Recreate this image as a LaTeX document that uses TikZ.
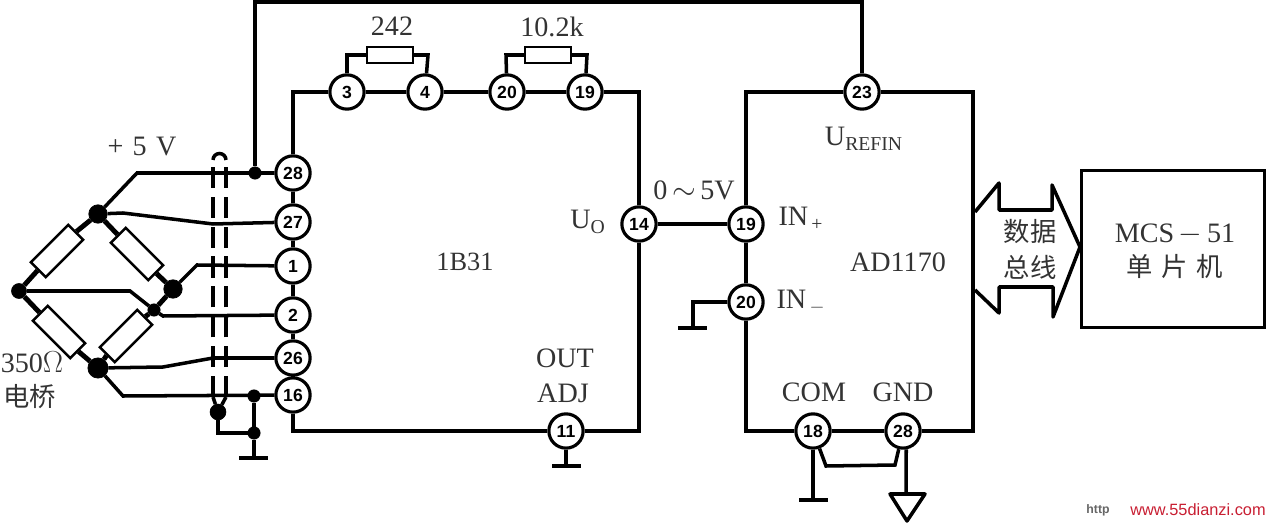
\documentclass[tikz,border=0pt]{standalone}
\usepackage{fontspec}
\setmainfont{Liberation Serif}
\newfontfamily\cjk{Noto Sans CJK SC}
\newfontfamily\pinfont{Liberation Sans}
\usepackage{tikz}
\usetikzlibrary{shapes,arrows}
\definecolor{markred}{RGB}{200,30,50}
\tikzstyle{pin} = [circle, draw, fill=white, line width=1.8pt, inner sep=0pt, minimum size=19.5pt, font=\pinfont\bfseries\fontsize{10}{10}\selectfont]
\tikzstyle{res} = [rectangle, draw, fill=white, line width=1.4pt, inner sep=0pt, minimum width=26pt, minimum height=9pt]
\tikzstyle{bridgeres} = [res, minimum width=30pt, minimum height=12pt]
\tikzstyle{dot} = [circle, draw, fill=black, inner sep=0pt, minimum size=7pt]
\tikzstyle{bigdot} = [dot, minimum size=10.5pt]
\tikzstyle{label} = [inner sep=0pt, font=\fontsize{16}{16}\selectfont, text=black!80]
\tikzstyle{cjklabel} = [inner sep=0pt, font=\cjk\fontsize{15}{15}\selectfont, text=black!80]
\tikzstyle{line} = [draw, line width=2pt]
\tikzstyle{bus} = [draw, line width=2.8pt]
\tikzstyle{shield} = [draw, line width=2pt, dash pattern=on 12pt off 5pt]
\tikzstyle{earth} = [draw, line width=1.8pt]
\begin{document}
\begin{tikzpicture}[x=0.02cm, y=-0.02cm]
    \useasboundingbox (0,0) rectangle (1267,523);
    % Place nodes
    \node [pin] (pin3) at (347,92) {3};
    \node [pin] (pin4) at (425,92) {4};
    \node [pin] (pin20) at (507,92) {20};
    \node [pin] (pin19) at (585,92) {19};
    \node [pin] (pin28) at (293,173) {28};
    \node [pin] (pin27) at (293,222) {27};
    \node [pin] (pin1) at (293,266) {1};
    \node [pin] (pin2) at (293,315) {2};
    \node [pin] (pin26) at (293,358) {26};
    \node [pin] (pin16) at (293,395) {16};
    \node [pin] (pin14) at (639,224) {14};
    \node [pin] (pin11) at (566,431) {11};
    \node [pin] (adc23) at (862,92) {23};
    \node [pin] (adc19) at (746,224) {19};
    \node [pin] (adc20) at (746,302) {20};
    \node [pin] (adc18) at (813,431) {18};
    \node [pin] (adc28) at (903,431) {28};
    \node [res] (gain) at (390,55) {};
    \node [res] (offset) at (548,55) {};
    \node [bridgeres, rotate=45] (armA) at (57,251) {};
    \node [bridgeres, rotate=-45] (armB) at (137,254) {};
    \node [bridgeres, rotate=-45] (armC) at (59,332) {};
    \node [bridgeres, rotate=45] (armD) at (126,336) {};
    \node [bigdot] (top) at (98,214) {};
    \node [bigdot, minimum size=8.5pt] (left) at (19,291) {};
    \node [bigdot] (right) at (173,289) {};
    \node [dot] (sense) at (154,310) {};
    \node [bigdot, minimum size=11.5pt] (bottom) at (98,368) {};
    \node [dot] (supply) at (255,173) {};
    \node [dot] (return) at (254,396) {};
    \node [dot] (common) at (254,433) {};
    \node [dot, minimum size=9pt] (drain) at (218,412) {};
    \node [rectangle, draw, line width=2pt, inner sep=0pt, minimum width=3.66cm, minimum height=3.14cm] (mcu) at (1173,249) {};
    \coordinate (earthA) at (254,458);
    \coordinate (earthB) at (566,466);
    \coordinate (earthC) at (693,328);
    \coordinate (earthD) at (813,500);
    \coordinate (digital) at (906,494);
    % Draw edges
    \path [bus] (pin3) -| (pin28);
    \path [bus] (pin28) -- (pin27);
    \path [bus] (pin27) -- (pin1);
    \path [bus] (pin1) -- (pin2);
    \path [bus] (pin2) -- (pin26);
    \path [bus] (pin26) -- (pin16);
    \path [bus] (pin16) |- (pin11);
    \path [bus] (pin11) -| (pin14);
    \path [bus] (pin14) |- (pin19);
    \path [bus] (pin3) -- (pin4);
    \path [bus] (pin4) -- (pin20);
    \path [bus] (pin20) -- (pin19);
    \path [bus] (adc23) -| (adc19);
    \path [bus] (adc19) -- (adc20);
    \path [bus] (adc20) |- (adc18);
    \path [bus] (adc18) -- (adc28);
    \path [bus] (adc28) -- (973,431) -- (973,92) -- (adc23);
    \path [line] (pin3) -- (347,55) -- (gain);
    \path [line] (gain) -- (428,55) -- (pin4);
    \path [line] (pin20) -- (506,55) -- (offset);
    \path [line] (offset) -- (587,55) -- (pin19);
    \path [line] (pin14) -- (adc19);
    \path [line] (supply) -- (255,2) -- (862,2) -- (adc23);
    \path [line] (top) -- (137,173) -- (pin28);
    \path [line] (top) -- (123,213) -- (213,224) -- (pin27);
    \path [line] (right) -- (197,265) -- (pin1);
    \path [line] (left) -- (130,291) -- (sense) -- (163,316) -- (pin2);
    \path [line] (bottom) -- (163,367) -- (213,358) -- (pin26);
    \path [line] (bottom) -- (123,396) -- (pin16);
    \path [bus] (left) -- (armA.west);
    \path [bus] (armA.east) -- (top);
    \path [bus] (top) -- (armB.west);
    \path [bus] (armB.east) -- (right);
    \path [bus] (left) -- (armC.west);
    \path [bus] (armC.east) -- (bottom);
    \path [bus] (bottom) -- (armD.west);
    \path [bus] (armD.east) -- (sense);
    \path [bus] (sense) -- (right);
    \path [shield] (213,397) -- (213,160);
    \path [shield] (226,397) -- (226,160);
    \path [line] (213,160) arc (180:360:6.5);
    \path [line] (213,397) -- (drain);
    \path [line] (226,397) -- (drain);
    \path [line] (drain) -- (218,433) -- (common);
    \path [line] (return) -- (common);
    \path [line] (common) -- (earthA);
    \path [earth] (239,458) -- (268,458);
    \path [line] (pin11) -- (earthB);
    \path [earth] (552,466) -- (581,466);
    \path [line] (adc20) -- (693,302) -- (earthC);
    \path [earth] (678,328) -- (707,328);
    \path [bus] (adc18) -- (earthD);
    \path [earth] (799,500) -- (828,500);
    \path [line] (adc18) -- (826,466) -- (895,465) -- (adc28);
    \path [line] (adc28.-80) -- (digital);
    \path [line, line join=round] (890,494) -- (925,494) -- (907,521) -- cycle;
    \path [line, fill=white, line join=round] (975,212) -- (999,183) -- (999,210) -- (1052,210) -- (1052,185) -- (1080,247) -- (1053,317) -- (1053,287) -- (999,287) -- (999,313) -- (975,290);
    % Place labels
    \node [label] at (392,26) {242};
    \node [label] at (552,27) {10.2k};
    \node [label] at (142,147) {+\,\,5\,\,V};
    \node [label] at (32,362) {350$\Omega$};
    \node [cjklabel] at (30,397) {电桥};
    \node [label] at (588,222) {U\textsubscript{O}};
    \node [label] at (694,190) {0\,$\sim$\,5V};
    \node [label] at (864,139) {U\textsubscript{REFIN}};
    \node [label] at (801,219) {IN\textsubscript{\,+}};
    \node [label] at (801,302) {IN\textsubscript{\,$-$}};
    \node [label, font=\fontsize{15}{15}\selectfont] at (465,262) {1B31};
    \node [label] at (898,262) {AD1170};
    \node [label] at (565,358) {OUT};
    \node [label] at (563,393) {ADJ};
    \node [label] at (814,392) {COM};
    \node [label] at (903,392) {GND};
    \node [cjklabel] at (1030,232) {数据};
    \node [cjklabel] at (1030,267) {总线};
    \node [label] at (1175,234) {MCS\,$-$\,51};
    \node [cjklabel] at (1175,267) {单\,\,片\,\,机};
    \node [inner sep=0pt, font=\pinfont\bfseries\fontsize{7}{7}\selectfont, text=black!60] at (1098,510) {http};
    \node [inner sep=0pt, font=\pinfont\fontsize{9.3}{9.3}\selectfont, text=markred] at (1198,510) {www.55dianzi.com};
\end{tikzpicture}
\end{document}
